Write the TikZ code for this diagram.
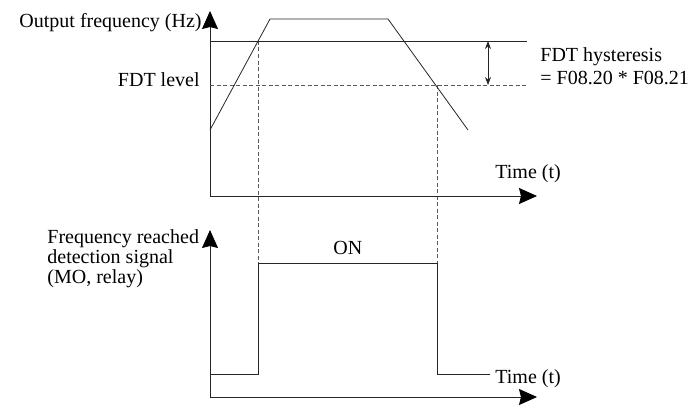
\documentclass[tikz,border=0pt]{standalone}
\usepackage{fontspec}
\setmainfont{Liberation Serif}
\usetikzlibrary{arrows.meta}
\tikzset{
	axis/.style={-{Stealth[length=18pt,width=16pt,inset=2pt,color=black]}},
	lbl/.style={inner sep=0pt, font=\fontsize{20}{20}\selectfont},
	guide/.style={dash pattern=on 4pt off 2.5pt, draw=black!65, line width=0.7pt},
	hyst/.style={{Stealth[length=8pt,width=6pt]}-{Stealth[length=8pt,width=6pt]}}
}
\begin{document}
\begin{tikzpicture}[x=1pt, y=-1pt, line width=0.8pt, draw=black!85]
	\useasboundingbox (0,0) rectangle (692,404);
	
	\coordinate (o1) at (210,196);
	\coordinate (o2) at (210,397);
	
	\draw[guide] (258,41) -- (258,263);
	\draw[guide] (437,85) -- (437,263);
	
	\draw[axis] (o1) -- (210,11);
	\draw[axis] (o1) -- (537,196);
	\draw (210,41) -- (527,41);
	\draw[guide] (210,85) -- (527,85);
	\draw (210,130) -- (270,19) -- (388,19) -- (468,130);
	\draw[hyst] (488,41) -- (488,85);
	
	\node[lbl, anchor=base east] (freq) at (202,28) {Output frequency (Hz)};
	\node[lbl, anchor=base east] (level) at (200,86) {FDT level};
	\node[lbl, anchor=north west, align=left, font=\fontsize{20}{23}\selectfont] (hys) at (540,47.5) {FDT hysteresis\\= F08.20 * F08.21};
	\node[lbl, anchor=base west] (time1) at (495,178) {Time (t)};
	
	\draw[axis] (o2) -- (210,230);
	\draw[axis] (o2) -- (537,397);
	\draw (210,374) -- (258,374) -- (258,263) -- (437,263) -- (437,374) -- (490,374);
	
	\node[lbl, anchor=north west, align=left] (signal) at (47,229.5) {Frequency reached\\detection signal\\(MO, relay)};
	\node[lbl, anchor=base west] (on) at (333,254) {ON};
	\node[lbl, anchor=base west] (time2) at (495,383) {Time (t)};
\end{tikzpicture}
\end{document}
